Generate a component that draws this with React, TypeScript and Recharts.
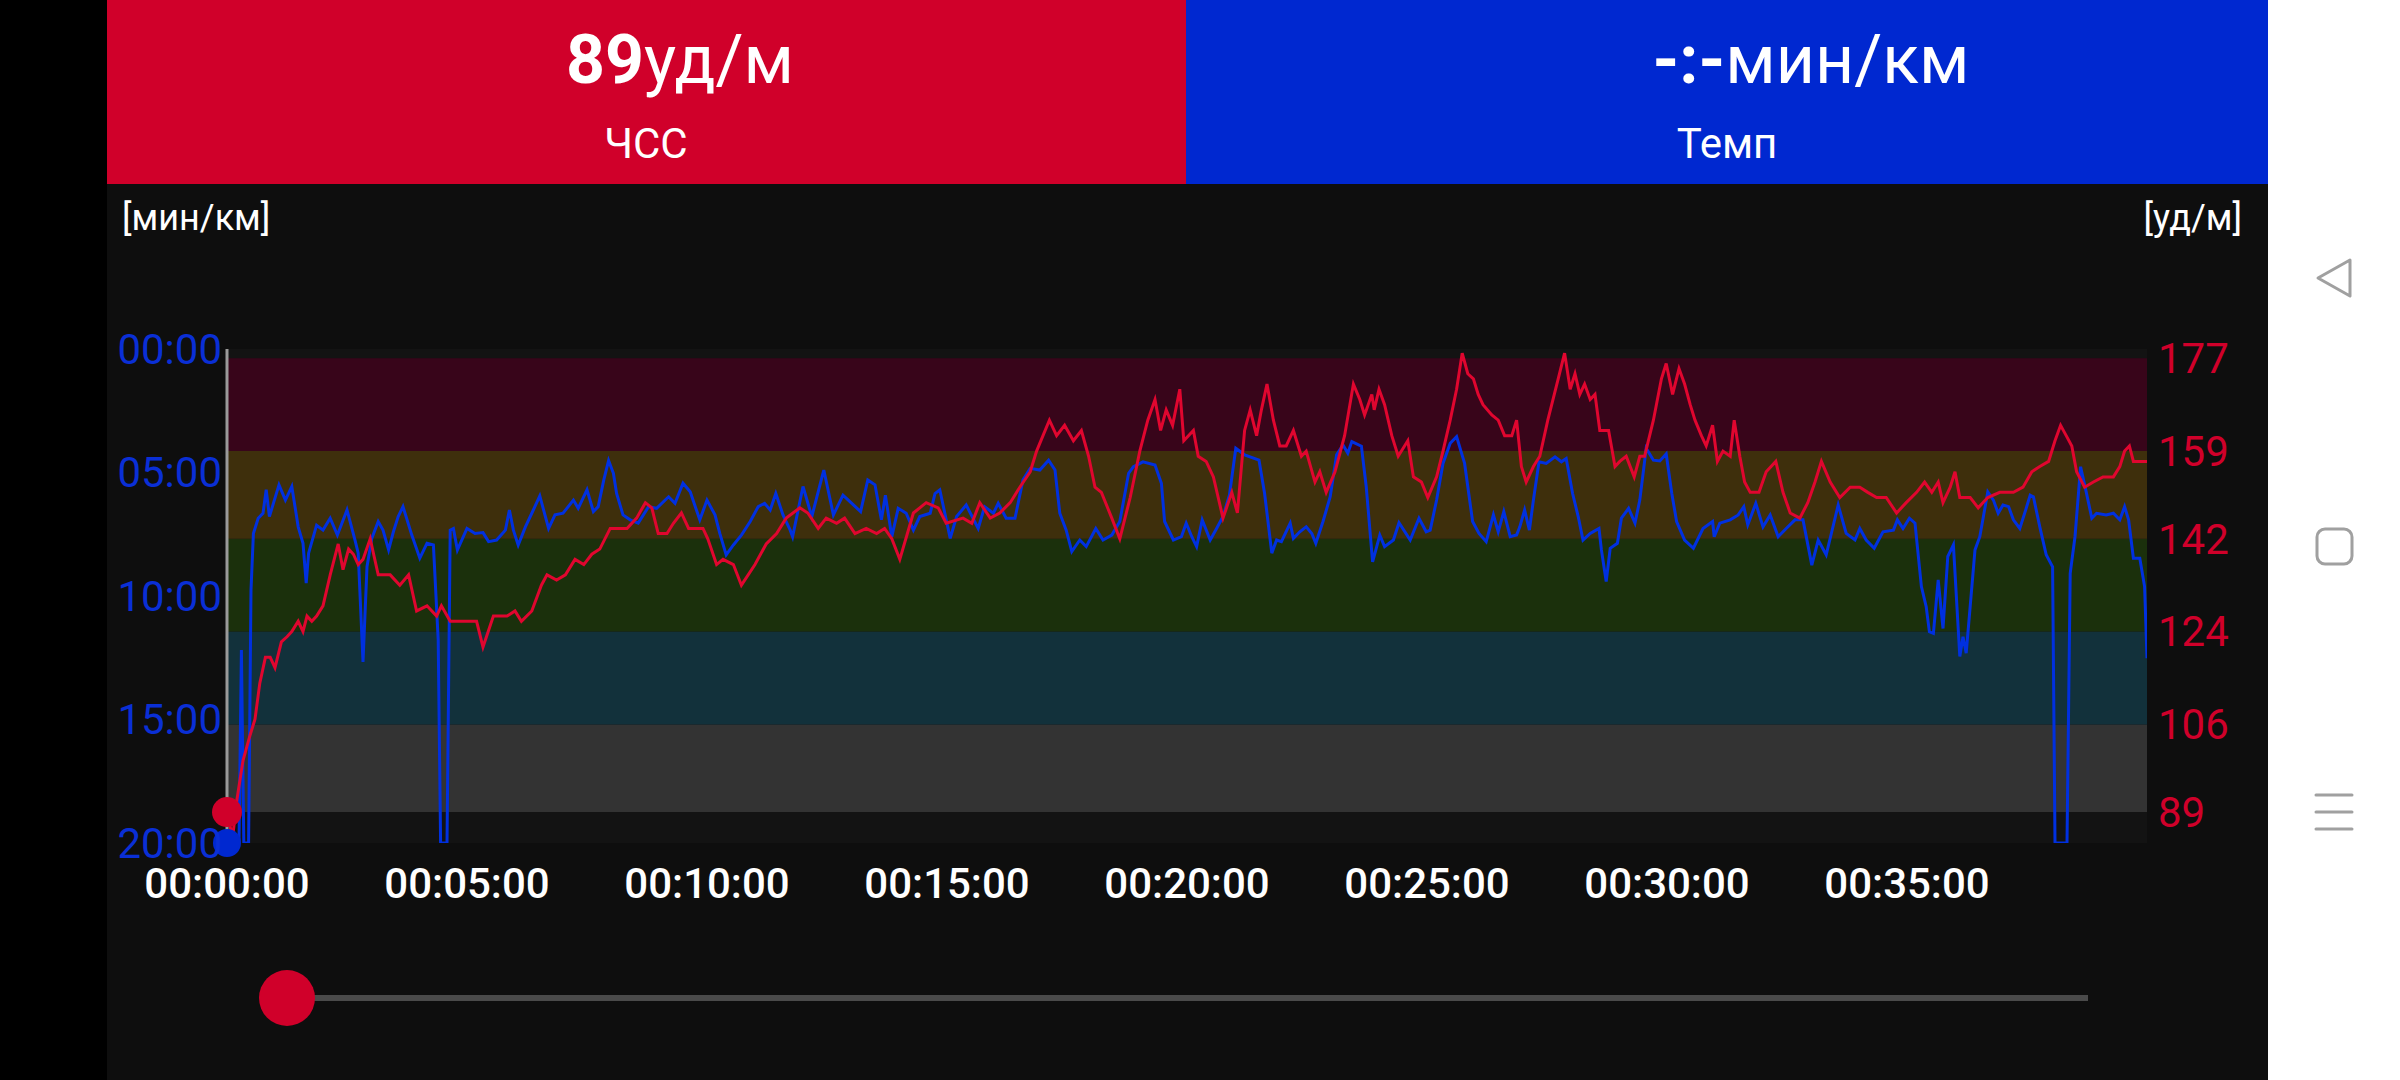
import {
  ComposedChart,
  Line,
  ReferenceArea,
  ReferenceDot,
  XAxis,
  YAxis,
} from "recharts";

// heart rate, seconds from start -> bpm
const HR_T = [
  0, 7, 12, 20, 29, 35, 41, 48, 54, 60, 68, 75, 81, 89, 95, 100, 106, 112, 120, 129,
  139, 145, 152, 158, 164, 170, 179, 189, 204, 216, 227, 237, 250, 262, 268, 279, 295, 312, 320, 333,
  350, 360, 368, 381, 393, 400, 412, 423, 435, 446, 456, 466, 479, 489, 500, 512, 523, 531, 539, 550,
  558, 568, 577, 595, 601, 612, 620, 633, 643, 660, 674, 687, 699, 716, 726, 739, 749, 762, 772, 785,
  799, 812, 822, 831, 841, 858, 874, 889, 899, 920, 931, 941, 954, 966, 979, 991, 1004, 1012, 1020, 1028,
  1037, 1047, 1058, 1068, 1077, 1085, 1093, 1106, 1116, 1129, 1141, 1151, 1160, 1167, 1174, 1182, 1191, 1196, 1208, 1214,
  1224, 1233, 1245, 1256, 1263, 1272, 1279, 1287, 1293, 1300, 1308, 1316, 1324, 1333, 1343, 1349, 1360, 1366, 1374, 1385,
  1397, 1408, 1416, 1422, 1431, 1434, 1440, 1447, 1456, 1464, 1476, 1483, 1493, 1501, 1512, 1520, 1529, 1537, 1544, 1551,
  1558, 1564, 1570, 1581, 1589, 1597, 1606, 1612, 1618, 1624, 1633, 1641, 1651, 1664, 1672, 1679, 1685, 1691, 1697, 1704,
  1710, 1716, 1727, 1735, 1741, 1749, 1759, 1766, 1772, 1783, 1793, 1799, 1807, 1815, 1822, 1829, 1835, 1843, 1849, 1857,
  1863, 1870, 1879, 1884, 1891, 1897, 1904, 1915, 1924, 1936, 1945, 1954, 1966, 1976, 1985, 1993, 2004, 2016, 2029, 2041,
  2051, 2062, 2074, 2087, 2099, 2112, 2122, 2131, 2139, 2145, 2154, 2160, 2166, 2179, 2189, 2201, 2216, 2233, 2245, 2256,
  2266, 2277, 2285, 2292, 2299, 2306, 2312, 2322, 2333, 2345, 2358, 2366, 2372, 2378, 2383, 2393, 2400,
];
const HR_V = [
  89, 84, 91, 99, 104, 107, 114, 119, 119, 117, 122, 123, 124, 126, 124, 127, 126, 127, 129, 135,
  141, 136, 140, 139, 137, 138, 142, 135, 135, 133, 135, 128, 129, 127, 129, 126, 126, 126, 121, 127,
  127, 128, 126, 128, 133, 135, 134, 135, 138, 137, 139, 140, 144, 144, 144, 146, 149, 148, 143, 143,
  145, 147, 144, 144, 142, 137, 138, 137, 133, 137, 141, 143, 146, 148, 147, 144, 146, 145, 146, 143,
  144, 143, 144, 142, 138, 147, 149, 148, 145, 146, 145, 149, 146, 147, 149, 152, 155, 159, 162, 165,
  162, 164, 161, 163, 158, 152, 151, 146, 142, 150, 159, 165, 169, 163, 167, 164, 171, 161, 163, 158,
  157, 154, 146, 151, 147, 163, 167, 162, 167, 172, 165, 160, 160, 163, 158, 159, 153, 155, 151, 155,
  162, 172, 169, 166, 170, 167, 171, 168, 162, 158, 161, 154, 153, 150, 154, 159, 165, 171, 178, 174,
  173, 170, 168, 166, 165, 162, 162, 165, 156, 153, 156, 158, 165, 173, 178, 171, 174, 170, 172, 169,
  170, 163, 163, 156, 157, 158, 154, 158, 158, 165, 173, 176, 170, 175, 172, 168, 165, 162, 160, 164,
  157, 159, 158, 165, 158, 153, 151, 151, 155, 157, 151, 147, 146, 149, 153, 157, 153, 150, 152, 152,
  151, 150, 150, 147, 149, 151, 153, 151, 153, 149, 152, 155, 150, 150, 148, 150, 151, 151, 152, 155,
  156, 157, 161, 164, 162, 160, 155, 152, 153, 154, 154, 156, 159, 160, 157, 157, 157,
];

// pace, seconds from start -> seconds per km (1200 = off the scale)
const PACE_T = [
  0, 15, 18, 21, 27, 30, 33, 39, 45, 49, 53, 58, 65, 73, 81, 89, 95, 99, 102, 112,
  120, 129, 138, 150, 160, 164, 170, 175, 181, 189, 195, 202, 208, 214, 220, 231, 241, 250, 258, 264,
  267, 275, 279, 283, 288, 300, 310, 320, 327, 337, 348, 353, 358, 364, 373, 381, 391, 402, 410, 420,
  433, 439, 450, 458, 464, 471, 477, 483, 487, 495, 504, 514, 527, 537, 552, 560, 570, 579, 591, 600,
  610, 616, 624, 633, 643, 654, 664, 672, 679, 686, 695, 704, 707, 720, 731, 746, 758, 770, 781, 792,
  801, 810, 818, 823, 831, 839, 849, 858, 866, 879, 885, 891, 904, 912, 924, 939, 947, 958, 964, 974,
  985, 995, 1004, 1016, 1027, 1035, 1041, 1049, 1056, 1066, 1074, 1086, 1095, 1106, 1116, 1127, 1133, 1145, 1160, 1168,
  1172, 1183, 1193, 1199, 1206, 1212, 1219, 1229, 1237, 1245, 1253, 1261, 1272, 1290, 1297, 1304, 1306, 1312, 1318, 1329,
  1333, 1341, 1349, 1356, 1361, 1370, 1379, 1387, 1395, 1401, 1406, 1418, 1424, 1432, 1441, 1447, 1458, 1465, 1479, 1490,
  1499, 1504, 1512, 1520, 1529, 1537, 1547, 1557, 1565, 1574, 1583, 1589, 1596, 1604, 1612, 1616, 1622, 1628, 1633, 1640,
  1649, 1660, 1668, 1674, 1682, 1689, 1695, 1704, 1715, 1718, 1724, 1729, 1738, 1743, 1752, 1760, 1766, 1774, 1783, 1791,
  1799, 1806, 1812, 1822, 1833, 1845, 1857, 1859, 1866, 1879, 1889, 1896, 1901, 1911, 1920, 1929, 1939, 1949, 1960, 1970,
  1981, 1989, 1999, 2014, 2024, 2035, 2041, 2049, 2059, 2070, 2083, 2088, 2095, 2103, 2110, 2118, 2124, 2128, 2133, 2139,
  2145, 2151, 2158, 2166, 2170, 2174, 2185, 2191, 2201, 2208, 2214, 2220, 2227, 2233, 2241, 2249, 2254, 2258, 2266, 2274,
  2282, 2285, 2300, 2304, 2310, 2317, 2324, 2331, 2337, 2349, 2358, 2366, 2372, 2377, 2383, 2391, 2397, 2400,
];
const PACE_V = [
  1200, 1200, 731, 1200, 1200, 585, 448, 411, 399, 342, 407, 375, 330, 367, 334, 432, 472, 569, 496, 428,
  440, 411, 452, 391, 464, 496, 760, 529, 460, 419, 440, 488, 444, 407, 383, 452, 508, 472, 476, 707,
  1200, 1200, 440, 436, 488, 436, 448, 446, 468, 464, 440, 391, 440, 476, 432, 399, 357, 436, 403, 399,
  367, 387, 342, 395, 383, 318, 271, 302, 351, 403, 415, 423, 383, 387, 359, 375, 326, 347, 415, 367,
  403, 448, 500, 476, 452, 419, 383, 375, 391, 351, 403, 440, 456, 334, 407, 294, 403, 355, 375, 395,
  318, 330, 415, 355, 456, 387, 399, 440, 407, 399, 351, 342, 460, 407, 379, 436, 383, 399, 375, 411,
  411, 318, 290, 294, 270, 294, 399, 440, 492, 464, 480, 436, 464, 452, 419, 302, 286, 274, 282, 326,
  419, 464, 456, 423, 456, 480, 415, 464, 436, 407, 355, 241, 257, 270, 351, 464, 496, 464, 468, 423,
  460, 444, 432, 448, 472, 419, 359, 257, 233, 253, 225, 236, 334, 517, 452, 480, 464, 422, 464, 411,
  444, 440, 367, 278, 229, 213, 278, 419, 448, 468, 403, 444, 395, 456, 452, 432, 391, 440, 367, 274,
  278, 262, 274, 266, 351, 407, 464, 448, 436, 488, 565, 484, 472, 411, 387, 423, 367, 241, 270, 272,
  255, 351, 419, 464, 484, 436, 419, 456, 423, 415, 403, 383, 427, 375, 432, 403, 456, 436, 415, 415,
  525, 464, 500, 379, 448, 464, 436, 464, 484, 444, 440, 415, 436, 411, 423, 577, 626, 687, 691, 561,
  679, 504, 476, 747, 699, 739, 488, 456, 347, 367, 399, 379, 383, 415, 436, 387, 355, 359, 432, 500,
  529, 1200, 1200, 545, 456, 286, 347, 411, 399, 403, 399, 415, 383, 415, 508, 508, 577, 751,
];

const X_TICKS = [0, 300, 600, 900, 1200, 1500, 1800, 2100];
const PACE_TICKS = [0, 300, 600, 900, 1200];
const HR_TICKS = [89, 106, 124, 142, 159, 177];

// heart rate zones, bottom to top
const ZONE_FROM = [89, 106, 124, 142, 159];
const ZONE_TO = [106, 124, 142, 159, 177];
const ZONE_FILL = ["#333333", "#12313b", "#1b300c", "#3e2f0c", "#38051a"];

const RED = "#d0002a";
const BLUE = "#0028d0";
const FONT = "Roboto, 'Noto Sans', sans-serif";

const pad = (n: number) => String(n).padStart(2, "0");
const fmtClock = (s: number) =>
  `${pad(Math.floor(s / 3600))}:${pad(Math.floor((s % 3600) / 60))}:${pad(s % 60)}`;
const fmtPace = (s: number) => `${pad(Math.floor(s / 60))}:${pad(s % 60)}`;

const hrData = HR_T.map((t, i) => ({ t, hr: HR_V[i] }));
const paceData = PACE_T.map((t, i) => ({ t, pace: PACE_V[i] }));

function PaceHrChart() {
  return (
    <ComposedChart width={2161} height={896} margin={{ top: 165, right: 0, bottom: 177, left: 0 }}>
      <ReferenceArea yAxisId="pace" y1={0} y2={1200} fill="#131313" fillOpacity={1} stroke="none" />
      {ZONE_FROM.map((from, i) => (
        <ReferenceArea
          key={from}
          yAxisId="hr"
          y1={from}
          y2={ZONE_TO[i]}
          fill={ZONE_FILL[i]}
          fillOpacity={1}
          stroke="none"
        />
      ))}
      <XAxis
        dataKey="t"
        type="number"
        domain={[0, 2400]}
        allowDataOverflow
        ticks={X_TICKS}
        interval={0}
        tickFormatter={fmtClock}
        tick={{ fill: "#ffffff", fontSize: 42, fontWeight: 500, fontFamily: FONT }}
        axisLine={false}
        tickLine={false}
        tickSize={0}
        tickMargin={25}
        height={60}
      />
      <YAxis
        yAxisId="pace"
        orientation="left"
        width={120}
        reversed
        type="number"
        domain={[0, 1200]}
        allowDataOverflow
        ticks={PACE_TICKS}
        interval={0}
        tickFormatter={fmtPace}
        tick={{ fill: "#0a2fd6", fontSize: 42, fontFamily: FONT }}
        axisLine={{ stroke: "#9a9a9a", strokeWidth: 3 }}
        tickLine={false}
        tickSize={0}
        tickMargin={5}
      />
      <YAxis
        yAxisId="hr"
        orientation="right"
        width={121}
        type="number"
        domain={[83, 178.8]}
        allowDataOverflow
        ticks={HR_TICKS}
        interval={0}
        tick={{ fill: RED, fontSize: 42, fontFamily: FONT }}
        axisLine={false}
        tickLine={false}
        tickSize={0}
        tickMargin={11}
      />
      <Line
        data={paceData}
        dataKey="pace"
        yAxisId="pace"
        type="linear"
        stroke="#0030e0"
        strokeWidth={3}
        dot={false}
        activeDot={false}
        isAnimationActive={false}
      />
      <Line
        data={hrData}
        dataKey="hr"
        yAxisId="hr"
        type="linear"
        stroke="#e0062f"
        strokeWidth={3}
        dot={false}
        activeDot={false}
        isAnimationActive={false}
      />
      <ReferenceDot yAxisId="pace" x={0} y={1200} r={14} fill={BLUE} stroke="none" ifOverflow="visible" />
      <ReferenceDot yAxisId="hr" x={0} y={89} r={15} fill={RED} stroke="none" ifOverflow="visible" />
    </ComposedChart>
  );
}

export default function App() {
  return (
    <div
      style={{
        position: "absolute",
        left: 0,
        top: 0,
        width: 2400,
        height: 1080,
        background: "#000000",
        overflow: "hidden",
        fontFamily: FONT,
      }}
    >
      <div style={{ position: "absolute", left: 107, top: 0, width: 2161, height: 1080, background: "#0e0e0e" }} />
      <div style={{ position: "absolute", left: 107, top: 0, width: 1079, height: 184, background: RED }} />
      <div style={{ position: "absolute", left: 1186, top: 0, width: 1082, height: 184, background: BLUE }} />
      <div style={{ position: "absolute", left: 2268, top: 0, width: 132, height: 1080, background: "#ffffff" }} />

      <div style={{ position: "absolute", left: 107, top: 184 }}>
        <PaceHrChart />
      </div>

      <svg
        width={2400}
        height={1080}
        style={{ position: "absolute", left: 0, top: 0, pointerEvents: "none" }}
        fontFamily={FONT}
      >
        <text x={680} y={83} textAnchor="middle" fontSize={68} fill="#ffffff">
          <tspan fontWeight={700}>89</tspan>
          <tspan>уд/м</tspan>
        </text>
        <text x={646} y={158} textAnchor="middle" fontSize={42} fill="#ffffff">
          ЧСС
        </text>
        <text x={1811} y={83} textAnchor="middle" fontSize={68} fill="#ffffff">
          <tspan fontWeight={700}>-:-</tspan>
          <tspan>мин/км</tspan>
        </text>
        <text x={1727} y={158} textAnchor="middle" fontSize={42} fill="#ffffff">
          Темп
        </text>

        <text x={122} y={230} fontSize={36} fill="#ffffff">
          [мин/км]
        </text>
        <text x={2242} y={230} textAnchor="end" fontSize={36} fill="#ffffff">
          [уд/м]
        </text>

        {/* time slider */}
        <rect x={287} y={995} width={1801} height={6} fill="#4a4a4a" />
        <circle cx={287} cy={998} r={28} fill={RED} />

        {/* navigation bar */}
        <g fill="none" stroke="#a0a0a0" strokeWidth={3} strokeLinejoin="round" strokeLinecap="round">
          <path d="M2350 260 L2318 278 L2350 296 Z" />
          <rect x={2317} y={529} width={35} height={35} rx={8} />
          <line x1={2316} y1={795} x2={2352} y2={795} />
          <line x1={2316} y1={812} x2={2352} y2={812} />
          <line x1={2316} y1={829} x2={2352} y2={829} />
        </g>
      </svg>
    </div>
  );
}
